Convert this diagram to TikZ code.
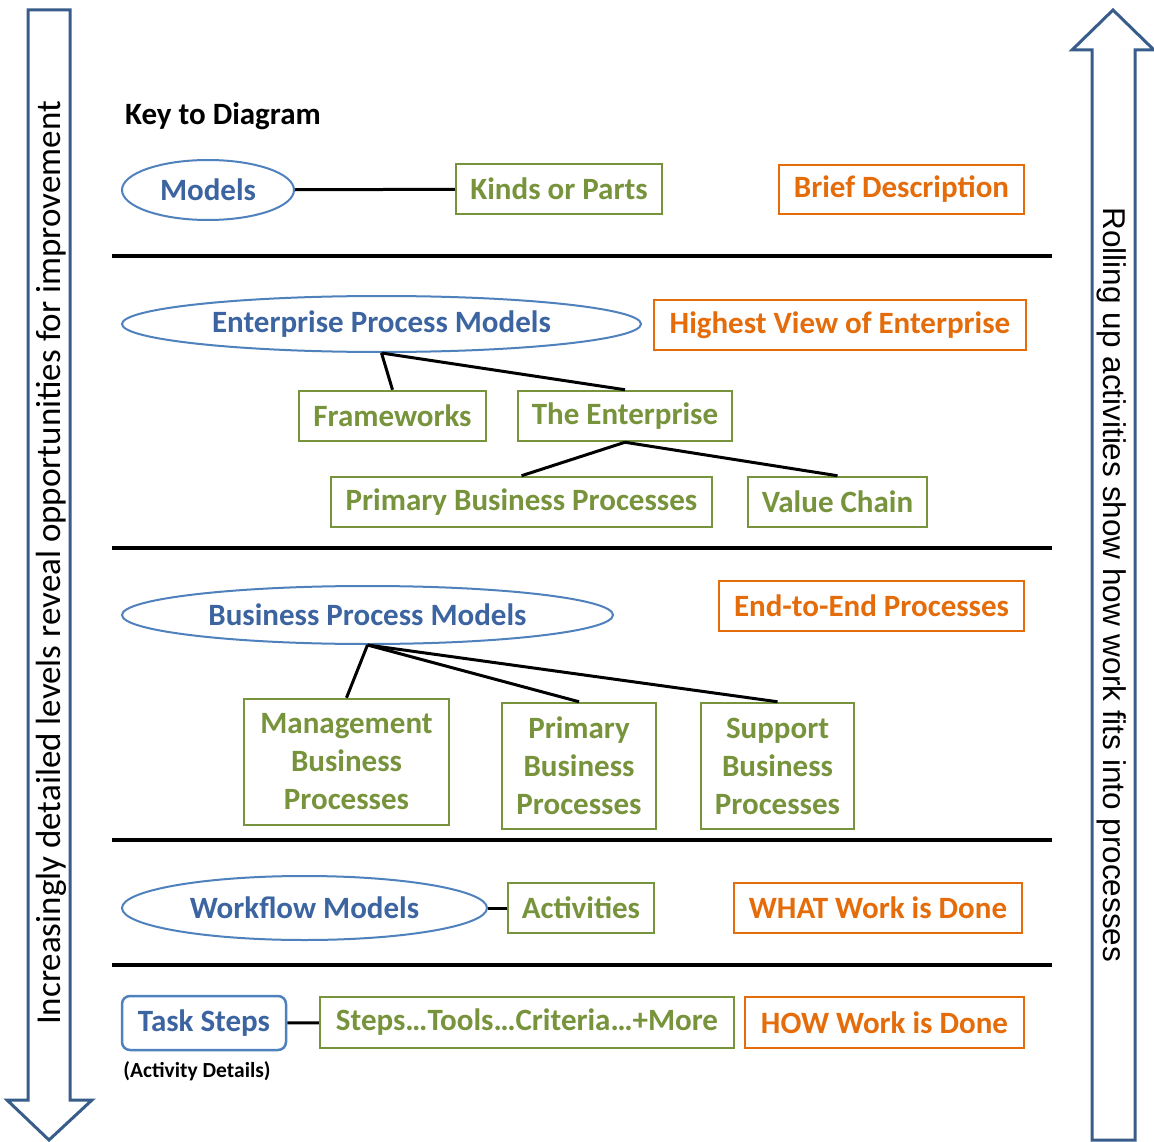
\documentclass[tikz,border=0pt]{standalone}
\usepackage{fontspec}
\setmainfont{Carlito}
\newfontfamily\mArialFont{Liberation Sans}
\usetikzlibrary{shapes.geometric,positioning}
\definecolor{mBlue}{HTML}{4F81BD}
\definecolor{mBlueText}{HTML}{3B64A0}
\definecolor{mGreen}{HTML}{77933C}
\definecolor{mOrange}{HTML}{E46C0A}
\definecolor{mArrow}{HTML}{385D8A}
\newcommand{\mBig}{\bfseries\fontsize{31}{38}\selectfont}
\tikzset{
  model/.style={ellipse,draw=mBlue,line width=2pt,text=mBlueText,font=\mBig,inner sep=0pt},
  part/.style={rectangle,draw=mGreen,line width=2.5pt,text=mGreen,font=\mBig,inner sep=0pt,align=center},
  brief/.style={rectangle,draw=mOrange,line width=2.5pt,text=mOrange,font=\mBig,inner sep=0pt},
  link/.style={line width=3pt},
  level/.style={line width=4pt},
  bigarrow/.style={draw=mArrow,line width=3pt,fill=white,line join=miter}
}
\begin{document}
\begin{tikzpicture}[x=1pt,y=-1pt]
    \useasboundingbox[fill=white] (0,0) rectangle (1154,1142);
    % side arrows
    \draw[bigarrow] (28,10) -- (70,10) -- (70,1100) -- (92,1100) -- (49,1140) -- (7,1100) -- (28,1100) -- cycle;
    \draw[bigarrow] (1092,1140) -- (1092,50) -- (1072,50) -- (1113,10) -- (1154,50) -- (1135,50) -- (1135,1140) -- cycle;
    \node[rotate=90,font=\fontsize{35}{40}\selectfont] (down) at (51,563) {Increasingly detailed levels reveal opportunities for improvement};
    \node[rotate=-90,font=\mArialFont\fontsize{31.5}{36}\selectfont] (up) at (1112,585) {Rolling up activities show how work fits into processes};
    % separators
    \foreach \y in {256,548,840,965}
      \draw[level] (112,\y) -- (1052,\y);
    % key
    \node[font=\mBig] (key) at (223,116) {Key to Diagram};
    \node[model,minimum width=172,minimum height=60] (models) at (208,190) {Models};
    \node[part,minimum width=206,minimum height=50] (kinds) at (559,189) {Kinds or Parts};
    \node[brief,minimum width=245,minimum height=49] (brief) at (901.5,189.5) {Brief Description};
    \draw[link] (models) -- (kinds);
    % enterprise
    \node[model,minimum width=519,minimum height=56] (epm) at (381.5,324) {Enterprise Process Models};
    \node[brief,minimum width=372,minimum height=50] (highest) at (840,325) {Highest View of Enterprise};
    \node[part,minimum width=187,minimum height=50] (frame) at (392.5,416) {Frameworks};
    \node[part,minimum width=214,minimum height=50] (theent) at (625,416) {The Enterprise};
    \node[part,minimum width=381,minimum height=50] (pbp) at (521.5,502) {Primary Business Processes};
    \node[part,minimum width=179,minimum height=50] (chain) at (837.5,502) {Value Chain};
    \draw[link] (epm.south) -- (frame.north);
    \draw[link] (epm.south) -- (theent.north);
    \draw[link] (theent.south) -- (pbp.north);
    \draw[link] (theent.south) -- (chain.north);
    % business
    \node[model,minimum width=491,minimum height=58] (bpm) at (367.5,615) {Business Process Models};
    \node[brief,minimum width=305,minimum height=50] (e2e) at (871.5,606) {End-to-End Processes};
    \node[part,minimum width=205,minimum height=126] (mgmt) at (346.5,762) {Management\\Business\\Processes};
    \node[part,minimum width=154,minimum height=126] (prim) at (579,766) {Primary\\Business\\Processes};
    \node[part,minimum width=153,minimum height=126] (supp) at (777.5,766) {Support\\Business\\Processes};
    \foreach \k in {mgmt,prim,supp}
      \draw[link] (bpm.south) -- (\k.north);
    % workflow
    \node[model,minimum width=365,minimum height=64] (wfm) at (304.5,908) {Workflow Models};
    \node[part,minimum width=146,minimum height=50] (acts) at (581,908) {Activities};
    \node[brief,minimum width=288,minimum height=50] (what) at (878,908) {WHAT Work is Done};
    \draw[link] (wfm) -- (acts);
    % task steps
    \node[rectangle,rounded corners=8pt,draw=mBlue,line width=2.5pt,text=mBlueText,font=\mBig,inner sep=0pt,minimum width=164,minimum height=54] (task) at (204,1023) {Task Steps};
    \node[font=\bfseries\fontsize{21.5}{24}\selectfont] (detail) at (197,1071) {(Activity Details)};
    \node[part,minimum width=414,minimum height=51] (steps) at (527,1022.5) {Steps\dots Tools\dots Criteria\dots+More};
    \node[brief,minimum width=279,minimum height=51] (how) at (884.5,1022.5) {HOW Work is Done};
    \draw[link] (task) -- (steps);
\end{tikzpicture}
\end{document}
